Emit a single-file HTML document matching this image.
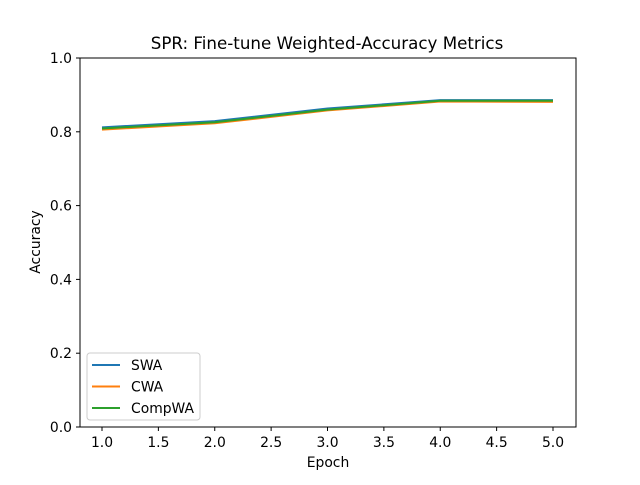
<!DOCTYPE html>
<html><head><meta charset="utf-8"><style>
body{margin:0;background:#fff;}
svg{font-family:"DejaVu Sans","Liberation Sans",sans-serif;}
</style></head><body>
<svg id="chart" width="640" height="480" xmlns="http://www.w3.org/2000/svg">
<rect width="640" height="480" fill="#fff"/>
<text x="327" y="49" text-anchor="middle" font-size="16.7">SPR: Fine-tune Weighted-Accuracy Metrics</text>
<g id="ticks"></g>
<g id="lines"></g>
<rect x="80" y="58" width="496" height="369" fill="none" stroke="#000" stroke-width="1"/>
<text x="328" y="467" text-anchor="middle" font-size="13.9">Epoch</text>
<text transform="translate(40,242) rotate(-90)" text-anchor="middle" font-size="13.9">Accuracy</text>
<g>
<rect x="87" y="353" width="113" height="67" rx="3" fill="#fff" stroke="#ccc"/>
<g id="legend-items"></g>
</g>
</svg>
<script>
const epochs=[1,2,3,4,5];
const swa=[0.812,0.829,0.863,0.886,0.886];
const cwa=[0.806,0.823,0.858,0.882,0.881];
const compwa=[0.809,0.826,0.860,0.884,0.884];
const xTicks=[1.0,1.5,2.0,2.5,3.0,3.5,4.0,4.5,5.0];
const yTicks=[0.0,0.2,0.4,0.6,0.8,1.0];
const seriesNames=["SWA","CWA","CompWA"];
const NS="http://www.w3.org/2000/svg";
const X=v=>102+(v-1)*(553-102)/4;
const Y=v=>427-v*369;
function mk(t,a,p){const e=document.createElementNS(NS,t);for(const k in a)e.setAttribute(k,a[k]);p.appendChild(e);return e;}
const tg=document.getElementById('ticks');
xTicks.forEach(v=>{
 const l=mk('line',{x1:X(v),x2:X(v),y1:427,y2:431,stroke:'#000'},tg);
 
 
 const t=mk('text',{x:X(v),y:447,'text-anchor':'middle','font-size':13.9},tg);t.textContent=v.toFixed(1);
 
 
});
yTicks.forEach(v=>{
 const l=mk('line',{x1:76,x2:80,y1:Y(v),y2:Y(v),stroke:'#000'},tg);
 
 
 const t=mk('text',{x:72,y:Y(v)+5,'text-anchor':'end','font-size':13.9},tg);t.textContent=v.toFixed(1);
 
 
});
const data=[swa,cwa,compwa],colors=['#1f77b4','#ff7f0e','#2ca02c'];
const lg=document.getElementById('lines'),li=document.getElementById('legend-items');
data.forEach((s,i)=>{
 const p=mk('polyline',{points:s.map((v,j)=>X(epochs[j])+','+Y(v)).join(' '),fill:'none',stroke:colors[i],'stroke-width':2},lg);
 
 
 const y=365+i*21.5;
 const l=mk('line',{x1:92,x2:120,y1:y,y2:y,stroke:colors[i],'stroke-width':2},li);
 
 
 const t=mk('text',{x:131,y:y+5,'font-size':13.9},li);t.textContent=seriesNames[i];
 
 
});
</script>
</body></html>
